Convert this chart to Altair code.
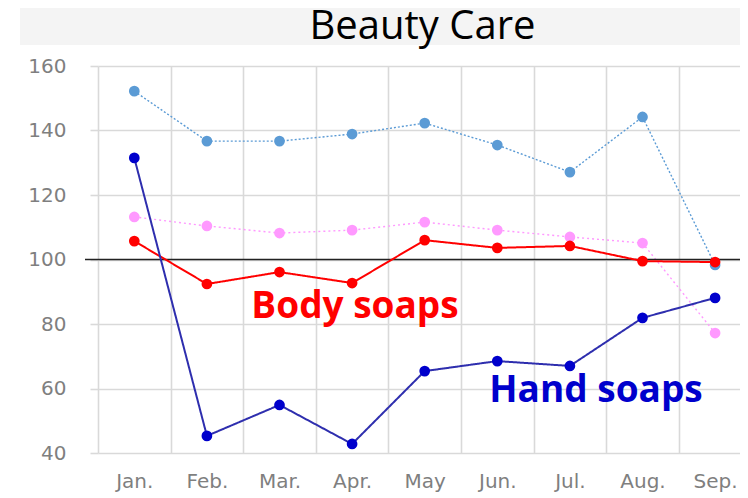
import json
import altair as alt
import pandas as pd

# ---------------- data ----------------
months = ["Jan.", "Feb.", "Mar.", "Apr.", "May", "Jun.", "Jul.", "Aug.", "Sep."]
series_names = ["Series A", "Series B", "Body soaps", "Hand soaps"]
series_a = [152.2, 136.7, 136.7, 138.9, 142.3, 135.5, 127.1, 144.2, 98.3]   # light blue dotted
series_b = [113.2, 110.4, 108.2, 109.1, 111.6, 109.1, 107.0, 105.1, 77.2]   # pink dotted
body_soaps = [105.7, 92.4, 96.1, 92.7, 106.0, 103.6, 104.2, 99.5, 99.2]     # red
hand_soaps = [131.5, 45.3, 54.9, 42.8, 65.4, 68.5, 67.0, 81.9, 88.1]        # dark blue
y_ticks = [40, 60, 80, 100, 120, 140, 160]
baseline_value = [100]
title_text = ["Beauty Care"]
annot_text = ["Body soaps", "Hand soaps"]
annot_month = [3.04, 6.36]
annot_value = [81.9, 55.8]

# ---------------- styles ----------------
W, H = 642, 387
BAND = 72.6
line_colors = ["#5B9BD5", "#FF99FF", "#FF0000", "#2E2EAE"]
point_colors = ["#5B9BD5", "#FF99FF", "#FF0000", "#0000CC"]
stroke_widths = [1.4, 1.4, 2.0, 2.0]
dashes = [[2, 2], [2, 3], [1, 0], [1, 0]]
annot_colors = ["#FF0000", "#0000CC"]

rows = []
for name, vals in zip(series_names, [series_a, series_b, body_soaps, hand_soaps]):
    for i, v in enumerate(vals):
        rows.append({"series": name, "i": i, "month": months[i], "v": v})
df = pd.DataFrame(rows)

label_expr = json.dumps(months) + "[round(datum.value + 0.5)]"
x_enc = alt.X(
    "i:Q",
    scale=alt.Scale(domain=[-0.5, -0.5 + W / BAND], nice=False, zero=False),
    axis=alt.Axis(
        values=[k - 0.5 for k in range(len(months))],
        labelExpr=label_expr,
        labelOffset=BAND / 2,
        grid=True, ticks=False, tickSize=0, domain=False,
        labelOverlap=False, labelFlush=False, labelBound=False,
        labelPadding=18, title=None,
    ),
)
y_enc = alt.Y(
    "v:Q",
    scale=alt.Scale(domain=[40, 160], nice=False, zero=False),
    axis=alt.Axis(values=y_ticks, grid=True, tickSize=8, domain=False,
                  labelPadding=24, title=None),
)

base = alt.Chart(df)
layers = []

band = alt.Chart(pd.DataFrame({"a": [0]})).mark_rect(color="#F4F4F4").encode(
    x=alt.value(-78), x2=alt.value(W), y=alt.value(-58), y2=alt.value(-21)
)
layers.append(band)

title = alt.Chart(pd.DataFrame({"t": title_text})).mark_text(
    font="Open Sans", fontSize=40, color="#000000", align="center",
    baseline="alphabetic"
).encode(text="t:N", x=alt.value(324.5), y=alt.value(-27))
layers.append(title)

def series_layers(k):
    name = series_names[k]
    sub = base.transform_filter(alt.datum.series == name)
    ln = sub.mark_line(color=line_colors[k], strokeWidth=stroke_widths[k],
                       strokeDash=dashes[k]).encode(x=x_enc, y=y_enc)
    pt = sub.mark_point(filled=True, opacity=1, size=115, color=point_colors[k]).encode(
        x=x_enc, y=y_enc)
    return [ln, pt]

layers += series_layers(0)
layers += series_layers(1)

rule = alt.Chart(pd.DataFrame({"v": baseline_value})).mark_rule(
    color="#222222", strokeWidth=1.6
).encode(y=alt.Y("v:Q"), x=alt.value(-13), x2=alt.value(W))
layers.append(rule)

layers += series_layers(2)
layers += series_layers(3)

annot = pd.DataFrame({"text": annot_text, "i": annot_month, "v": annot_value,
                      "c": annot_colors})
txt = alt.Chart(annot).mark_text(
    font="Open Sans", fontSize=37, fontWeight="bold", align="center",
    baseline="alphabetic"
).encode(x=alt.X("i:Q"), y=alt.Y("v:Q"), text="text:N",
         color=alt.Color("c:N", scale=None))
layers.append(txt)

chart = alt.layer(*layers).properties(
    width=W, height=H,
    background="white",
    autosize=alt.AutoSizeParams(type="none"),
    padding={"left": 90, "top": 58, "right": 0, "bottom": 40},
).configure_view(stroke=None).configure_axis(
    gridColor="#D9D9D9", gridWidth=1.6, tickColor="#D9D9D9", tickWidth=1.6,
    labelColor="#7F7F7F", labelFont="DejaVu Sans", labelFontSize=20,
)

chart.save("out.html", embed_options={"renderer": "svg", "actions": False})
